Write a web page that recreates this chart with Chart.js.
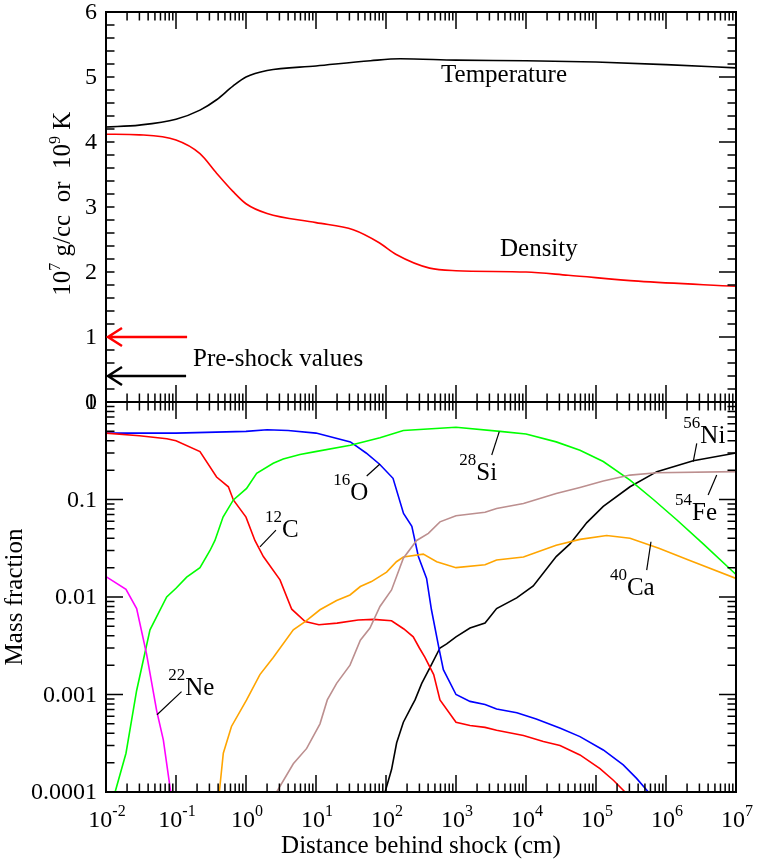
<!DOCTYPE html>
<html>
<head>
<meta charset="utf-8">
<script src="https://cdn.jsdelivr.net/npm/chart.js@4"></script>
<style>
  html, body { margin: 0; background: #fff; }
  #wrap { position: relative; width: 757px; height: 863px; }
  #wrap canvas { position: absolute; left: 0; top: 0; }
</style>
</head>
<body>
<div id="wrap">
  <canvas id="topChart" width="757" height="863"></canvas>
  <canvas id="bottomChart" width="757" height="863"></canvas>
</div>
<script>
// --- top panel: 10^7 g/cc or 10^9 K vs distance behind shock (cm)
const tempDist = [0.01, 0.03, 0.1, 0.22, 0.38, 0.65, 1, 2, 10, 60, 160, 1e3, 1e4, 1e5, 1e6, 1e7];
const tempVal  = [4.23, 4.26, 4.35, 4.49, 4.65, 4.86, 5.0, 5.1, 5.17, 5.25, 5.28, 5.26, 5.25, 5.23, 5.19, 5.14];
const densDist = [0.01, 0.03, 0.1, 0.22, 0.38, 0.65, 1, 2, 10, 34, 80, 140, 420, 1e3, 1e4, 4e4, 4e5, 1e7];
const densVal  = [4.12, 4.11, 4.03, 3.82, 3.52, 3.24, 3.05, 2.9, 2.76, 2.65, 2.45, 2.27, 2.06, 2.02, 2.0, 1.95, 1.86, 1.78];
const preShockDensity = 1.0;
const preShockTemp = 0.4;

// --- bottom panel: mass fractions
const o16Dist = [0.01, 0.1, 1, 2, 4, 10, 31, 52, 81, 126, 178, 234, 290, 380, 446, 575, 660, 1e3, 1585, 2600, 3800, 7400, 1.4e4, 3.1e4, 5.9e4, 1.27e5, 2.45e5, 3.8e5, 5.6e5];
const o16Frac = [0.48, 0.48, 0.50, 0.52, 0.51, 0.48, 0.39, 0.30, 0.23, 0.165, 0.072, 0.053, 0.026, 0.0155, 0.0074, 0.0029, 0.0018, 0.001, 0.00085, 0.00079, 0.00071, 0.00065, 0.00056, 0.00045, 0.00037, 0.00027, 0.00019, 0.000138, 0.0001];

const c12Dist = [0.01, 0.03, 0.074, 0.1, 0.22, 0.38, 0.56, 0.66, 1, 1.34, 1.77, 3.06, 4.5, 7, 11, 20, 40, 66, 120, 180, 245, 300, 360, 480, 590, 1e3, 1585, 2600, 3800, 9200, 1.77e4, 3.06e4, 5.9e4, 1.14e5, 1.77e5, 2.6e5];
const c12Frac = [0.48, 0.45, 0.42, 0.40, 0.31, 0.17, 0.135, 0.099, 0.066, 0.038, 0.026, 0.015, 0.0075, 0.0056, 0.0052, 0.0054, 0.0058, 0.0059, 0.0057, 0.0047, 0.0039, 0.003, 0.0024, 0.0016, 0.00088, 0.00052, 0.00048, 0.00046, 0.00043, 0.00038, 0.00033, 0.0003, 0.00024, 0.000174, 0.000132, 0.0001];

const si28Dist = [0.0135, 0.0193, 0.0274, 0.0425, 0.0736, 0.1, 0.142, 0.22, 0.306, 0.36, 0.47, 0.66, 1.02, 1.42, 2.45, 3.4, 5.9, 9.8, 31, 82, 177, 1e3, 4250, 1e4, 2.7e4, 5.9e4, 1.27e5, 3.06e5, 6.6e5, 1.42e6, 3.4e6, 1e7];
const si28Frac = [0.0001, 0.00025, 0.0011, 0.0046, 0.01, 0.0123, 0.016, 0.02, 0.03, 0.038, 0.066, 0.099, 0.13, 0.186, 0.235, 0.26, 0.29, 0.31, 0.36, 0.43, 0.51, 0.55, 0.50, 0.47, 0.39, 0.32, 0.245, 0.158, 0.1, 0.062, 0.035, 0.017];

const ca40Dist = [0.416, 0.474, 0.62, 1.02, 1.58, 2.45, 4.74, 7, 11.4, 19.7, 30.6, 43, 62, 102, 141, 177, 341, 530, 1e3, 2600, 3800, 9200, 2.7e4, 5.9e4, 1.42e5, 3.06e5, 7.9e5, 2.1e6, 1e7];
const ca40Frac = [0.0001, 0.00025, 0.00047, 0.00088, 0.0016, 0.0024, 0.0046, 0.0056, 0.0074, 0.0092, 0.0105, 0.0128, 0.0144, 0.018, 0.023, 0.0257, 0.0275, 0.023, 0.02, 0.0214, 0.024, 0.0257, 0.034, 0.039, 0.0427, 0.04, 0.0316, 0.024, 0.0155];

const fe54Dist = [2.74, 4.74, 7.36, 11.4, 14.5, 19.7, 30.6, 43, 59, 82, 120, 177, 274, 403, 590, 1e3, 2600, 3800, 9200, 2.7e4, 5.9e4, 1.27e5, 3.06e5, 7.4e5, 1e7];
const fe54Frac = [0.0001, 0.000195, 0.00028, 0.0005, 0.00088, 0.0013, 0.002, 0.0036, 0.0048, 0.008, 0.0118, 0.025, 0.038, 0.045, 0.059, 0.068, 0.074, 0.081, 0.091, 0.115, 0.133, 0.155, 0.178, 0.188, 0.193];

const ni56Dist = [97, 120, 142, 177, 233, 260, 324, 426, 590, 736, 1e3, 1585, 2600, 3800, 7360, 1.27e4, 2.7e4, 4.25e4, 7.4e4, 1.27e5, 3.06e5, 7.4e5, 2.45e6, 1e7];
const ni56Frac = [0.0001, 0.00017, 0.00032, 0.00052, 0.00076, 0.00088, 0.0013, 0.0019, 0.003, 0.0033, 0.0039, 0.0048, 0.0054, 0.0076, 0.0098, 0.013, 0.026, 0.035, 0.058, 0.085, 0.135, 0.193, 0.25, 0.30];

const ne22Dist = [0.01, 0.0193, 0.0274, 0.038, 0.053, 0.066, 0.084];
const ne22Frac = [0.0162, 0.012, 0.0076, 0.0026, 0.00068, 0.00034, 0.0001];

// tick values
const topYTicks = [0, 1, 2, 3, 4, 5, 6];
const bottomYTicks = [0.0001, 0.001, 0.01, 0.1, 1];
const bottomYLabels = ['0.0001', '0.001', '0.01', '0.1', '1'];
const xExponents = [-2, -1, 0, 1, 2, 3, 4, 5, 6, 7];

// isotope labels: [mass, symbol, label x, label y, leader from x, y, leader to x, y] in data units
const isoNotes = [
  ['16', 'O', 17.7, 0.0988, 53, 0.174, 82, 0.231],
  ['12', 'C', 1.87, 0.0415, 1.58, 0.0326, 2.68, 0.0486],
  ['22', 'Ne', 0.0776, 0.00099, 0.0535, 0.00062, 0.12, 0.00107],
  ['28', 'Si', 1115, 0.158, 3240, 0.286, 4150, 0.496],
  ['56', 'Ni', 1.77e6, 0.38, 2.45e6, 0.244, 2.75e6, 0.377],
  ['54', 'Fe', 1.35e6, 0.0616, 4.0e6, 0.111, 5.3e6, 0.178],
  ['40', 'Ca', 1.58e5, 0.0105, 5.3e5, 0.0189, 6.1e5, 0.0369]
];

const SERIF = '"Liberation Serif", "Times New Roman", serif';

function pts(xs, ys) {
  return xs.map((x, i) => ({ x: x, y: ys[i] }));
}

function line(label, xs, ys, color, smooth) {
  return {
    label: label,
    data: pts(xs, ys),
    borderColor: color,
    borderWidth: 1.6,
    pointRadius: 0,
    fill: false,
    tension: smooth ? 0.4 : 0,
    cubicInterpolationMode: smooth ? 'monotone' : 'default'
  };
}

// minor/major positions on a log axis
function logTicks(minExp, maxExp) {
  const out = [];
  for (let e = minExp; e <= maxExp; e++) {
    const base = Math.pow(10, e);
    out.push({ v: base, major: true });
    if (e < maxExp) {
      for (let k = 2; k <= 9; k++) out.push({ v: k * base, major: false });
    }
  }
  return out;
}

function xTickMarks(ctx, xScale, y, dir) {
  ctx.beginPath();
  logTicks(-2, 7).forEach(t => {
    const px = xScale.getPixelForValue(t.v);
    ctx.moveTo(px, y);
    ctx.lineTo(px, y + dir * (t.major ? 17 : 8.5));
  });
  ctx.stroke();
}

function yTickMarks(ctx, yScale, ticks, left, right, leftMajor) {
  ctx.beginPath();
  ticks.forEach(t => {
    const py = yScale.getPixelForValue(t.v);
    ctx.moveTo(left, py);
    ctx.lineTo(left + (t.major ? leftMajor : 8.5), py);
    ctx.moveTo(right, py);
    ctx.lineTo(right - (t.major ? 17 : 8.5), py);
  });
  ctx.stroke();
}

// draws runs of [text, size, raise] one after another
function drawRuns(ctx, runs, x, y) {
  let cx = x;
  runs.forEach(r => {
    ctx.font = r[1] + 'px ' + SERIF;
    ctx.fillText(r[0], cx, y - r[2]);
    cx += ctx.measureText(r[0]).width;
  });
}

function runsWidth(ctx, runs) {
  let w = 0;
  runs.forEach(r => {
    ctx.font = r[1] + 'px ' + SERIF;
    w += ctx.measureText(r[0]).width;
  });
  return w;
}

function frame(ctx, area) {
  ctx.strokeStyle = '#000';
  ctx.lineWidth = 2;
  ctx.strokeRect(area.left, area.top, area.right - area.left, area.bottom - area.top);
}

function arrow(ctx, x0, x1, y, color) {
  ctx.strokeStyle = color;
  ctx.lineWidth = 2.5;
  ctx.beginPath();
  ctx.moveTo(x1, y);
  ctx.lineTo(x0 + 2, y);
  ctx.moveTo(x0 + 16, y - 9);
  ctx.lineTo(x0 + 2, y);
  ctx.lineTo(x0 + 16, y + 9);
  ctx.stroke();
}

const topDecor = {
  id: 'topDecor',
  afterDraw(chart) {
    const ctx = chart.ctx, a = chart.chartArea;
    const xs = chart.scales.x, ys = chart.scales.y;
    ctx.save();
    frame(ctx, a);
    ctx.lineWidth = 1.5;
    xTickMarks(ctx, xs, a.top, 1);
    xTickMarks(ctx, xs, a.bottom, -1);
    const yt = [];
    for (let i = 0; i <= 30; i++) yt.push({ v: i / 5, major: i % 5 === 0 });
    yTickMarks(ctx, ys, yt, a.left, a.right, 8.5);

    ctx.fillStyle = '#000';
    ctx.font = '24px ' + SERIF;
    ctx.textAlign = 'right';
    ctx.textBaseline = 'middle';
    topYTicks.forEach(v => ctx.fillText(String(v), a.left - 9, ys.getPixelForValue(v) + 1));

    // axis title
    ctx.textAlign = 'left';
    ctx.textBaseline = 'alphabetic';
    const title = [['10', 25, 0], ['7', 16, 10], [' g/cc  or  10', 25, 0], ['9', 16, 10], [' K', 25, 0]];
    ctx.save();
    ctx.translate(70, ys.getPixelForValue(3.05));
    ctx.rotate(-Math.PI / 2);
    drawRuns(ctx, title, -runsWidth(ctx, title) / 2, 0);
    ctx.restore();

    // curve names
    ctx.font = '25px ' + SERIF;
    ctx.fillText('Temperature', xs.getPixelForValue(611), ys.getPixelForValue(4.92));
    ctx.fillText('Density', xs.getPixelForValue(4250), ys.getPixelForValue(2.246));
    ctx.fillText('Pre-shock values', xs.getPixelForValue(0.175), ys.getPixelForValue(0.558));

    // pre-shock arrows
    const ax0 = xs.getPixelForValue(0.01), ax1 = xs.getPixelForValue(0.144);
    arrow(ctx, ax0, ax1, ys.getPixelForValue(preShockDensity), '#ff0000');
    arrow(ctx, ax0, ax1 - 1, ys.getPixelForValue(preShockTemp), '#000000');
    ctx.restore();
  }
};

const bottomDecor = {
  id: 'bottomDecor',
  afterDraw(chart) {
    const ctx = chart.ctx, a = chart.chartArea;
    const xs = chart.scales.x, ys = chart.scales.y;
    ctx.save();
    frame(ctx, a);
    ctx.lineWidth = 1.5;
    xTickMarks(ctx, xs, a.top, 1);
    xTickMarks(ctx, xs, a.bottom, -1);
    yTickMarks(ctx, ys, logTicks(-4, 0), a.left, a.right, 17);

    ctx.fillStyle = '#000';
    ctx.font = '24px ' + SERIF;
    ctx.textAlign = 'right';
    ctx.textBaseline = 'middle';
    bottomYTicks.forEach((v, i) => ctx.fillText(bottomYLabels[i], a.left - 9, ys.getPixelForValue(v) + 1));

    // x tick labels 10^n
    ctx.textAlign = 'left';
    ctx.textBaseline = 'alphabetic';
    xExponents.forEach(e => {
      const runs = [['10', 24, 0], [e < 0 ? '-' + (-e) : String(e), 16, 11]];
      const px = xs.getPixelForValue(Math.pow(10, e));
      drawRuns(ctx, runs, px - runsWidth(ctx, runs) / 2 + 1, a.bottom + 35);
    });

    // axis titles
    ctx.font = '25px ' + SERIF;
    ctx.textAlign = 'center';
    ctx.fillText('Distance behind shock (cm)', (a.left + a.right) / 2, a.bottom + 61);
    ctx.save();
    ctx.translate(22, (a.top + a.bottom) / 2);
    ctx.rotate(-Math.PI / 2);
    ctx.fillText('Mass fraction', 0, 0);
    ctx.restore();

    // isotope labels with leader lines
    ctx.textAlign = 'left';
    ctx.lineWidth = 1.2;
    ctx.strokeStyle = '#000';
    isoNotes.forEach(n => {
      drawRuns(ctx, [[n[0], 17, 15], [n[1], 25, 0]], xs.getPixelForValue(n[2]), ys.getPixelForValue(n[3]));
      ctx.beginPath();
      ctx.moveTo(xs.getPixelForValue(n[4]), ys.getPixelForValue(n[5]));
      ctx.lineTo(xs.getPixelForValue(n[6]), ys.getPixelForValue(n[7]));
      ctx.stroke();
    });
    ctx.restore();
  }
};

function baseOptions(padding, yScale) {
  return {
    responsive: false,
    animation: false,
    events: [],
    layout: { padding: padding },
    plugins: { legend: { display: false }, tooltip: { enabled: false } },
    scales: {
      x: { type: 'logarithmic', min: 0.01, max: 1e7, display: false },
      y: yScale
    }
  };
}

new Chart(document.getElementById('topChart'), {
  type: 'line',
  data: {
    datasets: [
      line('Temperature', tempDist, tempVal, '#000000', true),
      line('Density', densDist, densVal, '#ff0000', true)
    ]
  },
  options: baseOptions({ left: 106, right: 21, top: 12, bottom: 461 },
    { type: 'linear', min: 0, max: 6, display: false }),
  plugins: [topDecor]
});

new Chart(document.getElementById('bottomChart'), {
  type: 'line',
  data: {
    datasets: [
      line('22Ne', ne22Dist, ne22Frac, '#ff00ff'),
      line('54Fe', fe54Dist, fe54Frac, '#bc8f8f'),
      line('40Ca', ca40Dist, ca40Frac, '#ffa500'),
      line('28Si', si28Dist, si28Frac, '#00ff00'),
      line('12C', c12Dist, c12Frac, '#ff0000'),
      line('16O', o16Dist, o16Frac, '#0000ff'),
      line('56Ni', ni56Dist, ni56Frac, '#000000')
    ]
  },
  options: baseOptions({ left: 106, right: 21, top: 402, bottom: 71 },
    { type: 'logarithmic', min: 0.0001, max: 1, display: false }),
  plugins: [bottomDecor]
});
</script>
</body>
</html>
